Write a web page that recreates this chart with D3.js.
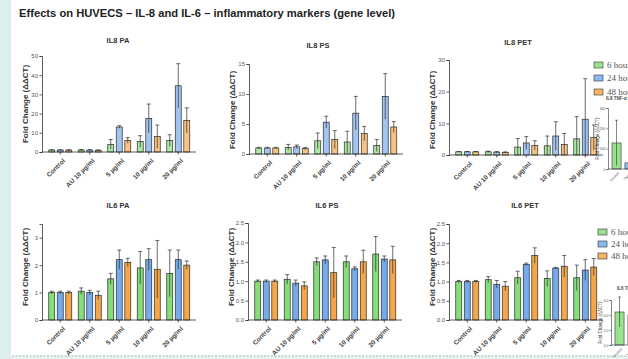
<!DOCTYPE html>
<html>
<head>
<meta charset="utf-8">
<script src="https://cdn.jsdelivr.net/npm/d3@7"></script>
<style>
  body { margin: 0; background: #fff; }
  svg { display: block; font-family: "Liberation Sans", Arial, sans-serif; }
</style>
</head>
<body>
<svg id="chart" width="628" height="359"></svg>
<script>
// categories and series
var groups = ["Control", "AU 10 µg/ml", "5 µg/ml", "10 µg/ml", "20 µg/ml"];
var times = ["6 hours", "24 hours", "48 hours"];

// means / SD, one row per time point (6h, 24h, 48h)
var il8PaMean = [[1, 1, 4, 5.5, 6], [1, 1, 13, 17.5, 34.5], [1, 0.9, 6, 8, 16.5]];
var il8PaErr  = [[0.2, 0.3, 2.5, 3, 3], [0.2, 0.2, 0.7, 7.5, 11.5], [0.2, 0.2, 1.5, 6, 6.5]];
var il8PsMean = [[1, 1.1, 2.2, 2, 1.4], [1, 1.2, 5.3, 6.8, 9.6], [1, 0.9, 2.4, 3.4, 4.5]];
var il8PsErr  = [[0.1, 0.5, 1.3, 1.8, 1], [0.1, 0.3, 1, 2.8, 3.8], [0.1, 0.2, 1.5, 1.2, 0.9]];
var il8PetMean = [[1, 1, 2.5, 2.9, 5.1], [1, 0.9, 3.8, 6, 11.3], [1, 0.8, 3, 3.3, 5.5]];
var il8PetErr  = [[0.1, 0.2, 2.7, 3.1, 7], [0.1, 0.2, 2, 4.5, 12.8], [0.1, 0.2, 1.5, 3.5, 4]];
var il6PaMean = [[1, 1.05, 1.5, 1.9, 1.7], [1, 1, 2.2, 2.2, 2.2], [1, 0.9, 2.1, 1.85, 2]];
var il6PaErr  = [[0.05, 0.12, 0.2, 0.6, 0.85], [0.05, 0.08, 0.35, 0.4, 0.35], [0.05, 0.15, 0.15, 1.05, 0.15]];
var il6PsMean = [[1, 1.05, 1.5, 1.5, 1.7], [1, 0.95, 1.55, 1.32, 1.57], [1, 0.88, 1.22, 1.5, 1.55]];
var il6PsErr  = [[0.03, 0.12, 0.1, 0.15, 0.45], [0.03, 0.08, 0.1, 0.05, 0.08], [0.03, 0.1, 0.65, 0.3, 0.35]];
var il6PetMean = [[1, 1.05, 1.1, 1.08, 1.1], [1, 0.93, 1.45, 1.35, 1.3], [1, 0.88, 1.68, 1.4, 1.38]];
var il6PetErr  = [[0.03, 0.08, 0.17, 0.2, 0.33], [0.03, 0.1, 0.03, 0.02, 0.27], [0.03, 0.12, 0.2, 0.28, 0.22]];

// small cropped insets at the right edge
var insetGroups = ["Control", "TNF-α"];
var il8InsetMean = [128, 30];
var il8InsetErr = [112, 20];
var il6InsetMean = [4.4, 4.0];
var il6InsetErr = [2, 1];

var colors = ["#7fdc72", "#6ea6ea", "#f4a13f"];

var svg = d3.select("#chart");

// slide frame
svg.append("rect").attr("x", 0).attr("y", 0).attr("width", 11).attr("height", 359).attr("fill", "#dcefed");
svg.append("rect").attr("x", 11).attr("y", 356).attr("width", 617).attr("height", 3).attr("fill", "#e6f4f2");
svg.append("line").attr("x1", 12).attr("x2", 628).attr("y1", 356).attr("y2", 356)
    .attr("stroke", "#999").attr("stroke-dasharray", "2,1.5").attr("stroke-width", 0.8);

svg.append("text")
    .attr("x", 19).attr("y", 17)
    .attr("font-size", 10.5).attr("font-weight", "bold").attr("fill", "#222")
    .attr("textLength", 376).attr("lengthAdjust", "spacingAndGlyphs")
    .text("Effects on HUVECS – IL-8 and IL-6 – inflammatory markers (gene level)");

var panels = [
  {title: "IL8 PA", mean: il8PaMean, err: il8PaErr, ax: 42, y0: 152, y1: 56, max: 50, ticks: [0, 10, 20, 30, 40, 50], fmt: d3.format("d"), tx: 118, ty: 43, ly: 104, light: true},
  {title: "IL8 PS", mean: il8PsMean, err: il8PsErr, ax: 249, y0: 154, y1: 64, max: 15, ticks: [0, 5, 10, 15], fmt: d3.format("d"), tx: 318, ty: 48, ly: 110, light: true},
  {title: "IL8 PET", mean: il8PetMean, err: il8PetErr, ax: 449, y0: 155, y1: 60, max: 30, ticks: [0, 10, 20, 30], fmt: d3.format("d"), tx: 518, ty: 45, ly: 110, light: true},
  {title: "IL6 PA", mean: il6PaMean, err: il6PaErr, ax: 42, y0: 320, y1: 224, max: 3.5, ticks: [0, 1, 2, 3], fmt: d3.format("d"), tx: 118, ty: 208, ly: 267, light: false},
  {title: "IL6 PS", mean: il6PsMean, err: il6PsErr, ax: 248, y0: 320, y1: 223, max: 2.5, ticks: [0, 0.5, 1, 1.5, 2, 2.5], fmt: d3.format(".1f"), tx: 327, ty: 208, ly: 267, light: false},
  {title: "IL6 PET", mean: il6PetMean, err: il6PetErr, ax: 449, y0: 320, y1: 224, max: 2.5, ticks: [0, 0.5, 1, 1.5, 2, 2.5], fmt: d3.format(".1f"), tx: 525, ty: 208, ly: 267, light: false}
];

panels.forEach(function(p) {
  var g = svg.append("g");
  var x = d3.scaleBand().domain(groups).range([p.ax + 3.5, p.ax + 151]);
  var xi = d3.scaleBand().domain(times).range([-11.5, 11.5]).paddingInner(0.3);
  var y = d3.scaleLinear().domain([0, p.max]).range([p.y0, p.y1]);

  g.append("text").attr("x", p.tx).attr("y", p.ty).attr("text-anchor", "middle")
      .attr("font-size", 7.5).attr("font-weight", "bold").attr("fill", "#333").text(p.title);

  g.append("text")
      .attr("transform", "translate(" + (p.ax - 14) + "," + p.ly + ") rotate(-90)")
      .attr("text-anchor", "middle").attr("font-size", 8).attr("font-weight", "bold").attr("fill", "#333")
      .text("Fold Change (ΔΔCT)");

  // bars
  times.forEach(function(t, ti) {
    groups.forEach(function(grp, gi) {
      var m = p.mean[ti][gi], e = p.err[ti][gi];
      var cx = x(grp) + x.bandwidth() / 2 + xi(t) + xi.bandwidth() / 2;
      g.append("rect")
          .attr("x", cx - xi.bandwidth() / 2).attr("y", y(m))
          .attr("width", xi.bandwidth()).attr("height", y(0) - y(m))
          .attr("fill", colors[ti]).attr("fill-opacity", p.light ? 0.65 : 0.95)
          .attr("stroke", "#2b2b2b").attr("stroke-width", 0.7);
      g.append("line")
          .attr("x1", cx).attr("x2", cx)
          .attr("y1", y(Math.max(0, m - e))).attr("y2", y(m + e))
          .attr("stroke", "#2b2b2b").attr("stroke-width", 0.7);
      g.append("line")
          .attr("x1", cx - 2).attr("x2", cx + 2)
          .attr("y1", y(m + e)).attr("y2", y(m + e))
          .attr("stroke", "#2b2b2b").attr("stroke-width", 0.7);
    });
  });

  var yAxis = d3.axisLeft(y).tickValues(p.ticks).tickFormat(p.fmt).tickSize(2.5).tickPadding(1.5);
  var ya = g.append("g").attr("transform", "translate(" + p.ax + ",0)").call(yAxis);
  ya.select(".domain").attr("stroke", "#333").attr("stroke-width", 0.8);
  ya.selectAll(".tick line").attr("stroke", "#333").attr("stroke-width", 0.8);
  ya.selectAll(".tick text").attr("font-size", 6).attr("fill", "#555");

  var xa = g.append("g").attr("transform", "translate(0," + p.y0 + ")");
  xa.append("line").attr("x1", p.ax).attr("x2", p.ax + 154).attr("stroke", "#333").attr("stroke-width", 0.8);
  groups.forEach(function(grp) {
    var cx = x(grp) + x.bandwidth() / 2;
    xa.append("line").attr("x1", cx).attr("x2", cx).attr("y1", 0).attr("y2", 2.5)
        .attr("stroke", "#333").attr("stroke-width", 0.8);
    xa.append("text")
        .attr("transform", "translate(" + (cx + 2) + ",6) rotate(-45)")
        .attr("text-anchor", "end").attr("dy", "0.7em")
        .attr("font-size", 6.5).attr("font-weight", "bold").attr("fill", "#444")
        .text(grp);
  });
});

// legends
function legend(x0, ys) {
  times.forEach(function(t, i) {
    svg.append("rect").attr("x", x0).attr("y", ys[i] - 3).attr("width", 9).attr("height", 6)
        .attr("fill", colors[i]).attr("fill-opacity", 0.8).attr("stroke", "#333").attr("stroke-width", 0.6);
    svg.append("text").attr("x", x0 + 13).attr("y", ys[i] + 3)
        .attr("font-size", 9).attr("fill", "#555").attr("font-family", "Liberation Serif, serif").text(t);
  });
}
legend(594, [65, 78, 92]);
legend(598, [232, 244, 256]);

// cropped insets
function inset(title, tx, ty, ax, yb, yt, max, ticks, mean, err) {
  var g = svg.append("g");
  var y = d3.scaleLinear().domain([0, max]).range([yb, yt]);
  var x = d3.scaleBand().domain(insetGroups).range([ax + 4, ax + 26]).paddingInner(0.3);
  g.append("text").attr("x", tx).attr("y", ty).attr("font-size", 4.5).attr("font-weight", "bold")
      .attr("fill", "#444").text(title);
  g.append("text")
      .attr("transform", "translate(" + (ax - 9) + "," + ((yb + yt) / 2) + ") rotate(-90)")
      .attr("text-anchor", "middle").attr("font-size", 4.5).attr("fill", "#444").text("Fold Change (ΔΔCT)");
  insetGroups.forEach(function(grp, i) {
    var cx = x(grp) + x.bandwidth() / 2;
    g.append("rect").attr("x", x(grp)).attr("y", y(mean[i])).attr("width", x.bandwidth())
        .attr("height", yb - y(mean[i])).attr("fill", colors[i]).attr("fill-opacity", 0.8)
        .attr("stroke", "#333").attr("stroke-width", 0.6);
    g.append("line").attr("x1", cx).attr("x2", cx).attr("y1", y(Math.max(0, mean[i] - err[i])))
        .attr("y2", y(mean[i] + err[i])).attr("stroke", "#333").attr("stroke-width", 0.6);
    g.append("line").attr("x1", cx - 1.5).attr("x2", cx + 1.5).attr("y1", y(mean[i] + err[i]))
        .attr("y2", y(mean[i] + err[i])).attr("stroke", "#333").attr("stroke-width", 0.6);
    g.append("text").attr("transform", "translate(" + (cx + 1) + "," + (yb + 3) + ") rotate(-45)")
        .attr("text-anchor", "end").attr("dy", "0.7em").attr("font-size", 3.5).attr("fill", "#444").text(grp);
  });
  var ya = g.append("g").attr("transform", "translate(" + ax + ",0)")
      .call(d3.axisLeft(y).tickValues(ticks).tickSize(1.5).tickPadding(1));
  ya.select(".domain").attr("stroke", "#333").attr("stroke-width", 0.6);
  ya.selectAll(".tick line").attr("stroke", "#333").attr("stroke-width", 0.6);
  ya.selectAll(".tick text").attr("font-size", 3.5).attr("fill", "#555");
  g.append("line").attr("x1", ax).attr("x2", ax + 30).attr("y1", yb).attr("y2", yb)
      .attr("stroke", "#333").attr("stroke-width", 0.6);
}
inset("IL8 TNF-α", 606, 100, 608, 169, 108, 300, [0, 100, 200, 300], il8InsetMean, il8InsetErr);
inset("IL6 TNF-α", 617, 290, 611, 345, 300, 6, [0, 2, 4, 6], il6InsetMean, il6InsetErr);
</script>
</body>
</html>
